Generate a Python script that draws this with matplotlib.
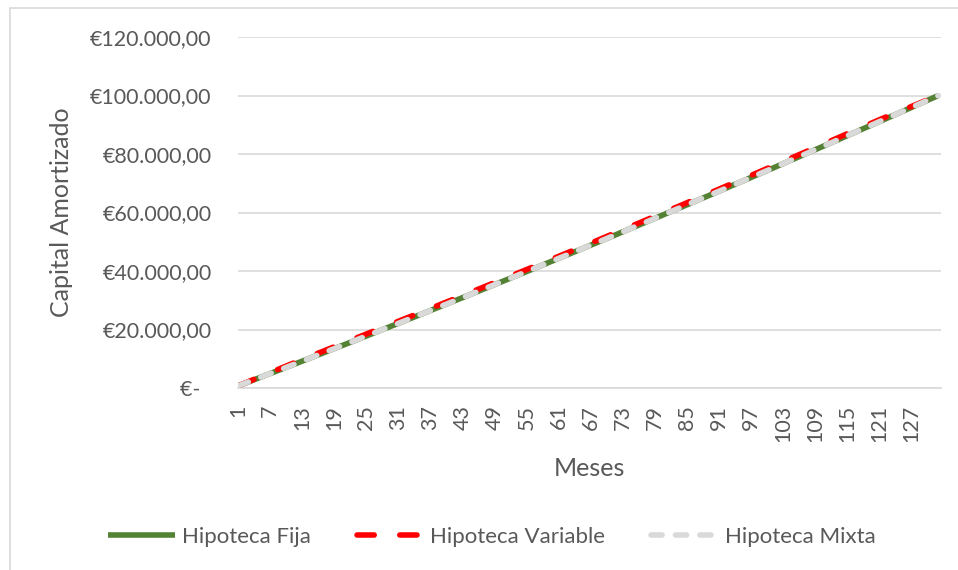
import matplotlib
matplotlib.use("Agg")
import matplotlib.pyplot as plt
from matplotlib.patches import Rectangle
from matplotlib.ticker import FuncFormatter, FixedLocator

# Capital amortizado acumulado por mes (EUR)
meses = list(range(1, 133))

fija = [700, 1400, 2100, 2810, 3510, 4210, 4920, 5620, 6330, 7040,
        7750, 8460, 9170, 9880, 10590, 11310, 12020, 12730, 13450, 14170,
        14880, 15600, 16320, 17040, 17760, 18490, 19210, 19930, 20660, 21380,
        22110, 22840, 23560, 24290, 25020, 25750, 26490, 27220, 27950, 28690,
        29420, 30160, 30890, 31630, 32370, 33110, 33850, 34590, 35330, 36080,
        36820, 37570, 38310, 39060, 39810, 40560, 41300, 42050, 42810, 43560,
        44310, 45060, 45820, 46570, 47330, 48090, 48850, 49600, 50360, 51130,
        51890, 52650, 53410, 54180, 54940, 55710, 56480, 57240, 58010, 58780,
        59550, 60320, 61090, 61870, 62640, 63420, 64190, 64970, 65750, 66520,
        67300, 68080, 68860, 69650, 70430, 71210, 72000, 72780, 73570, 74360,
        75140, 75930, 76720, 77510, 78300, 79100, 79890, 80680, 81480, 82280,
        83070, 83870, 84670, 85470, 86270, 87070, 87870, 88670, 89480, 90280,
        91090, 91900, 92700, 93510, 94320, 95130, 95940, 96750, 97570, 98380,
        99190, 100000]

variable = [700, 1460, 2220, 2990, 3740, 4490, 5250, 6000, 6750, 7500,
            8250, 8990, 9730, 10460, 11190, 11930, 12660, 13380, 14110, 14840,
            15560, 16290, 17020, 17740, 18460, 19190, 19910, 20630, 21360, 22080,
            22810, 23540, 24260, 24990, 25720, 26450, 27190, 27920, 28650, 29390,
            30120, 30860, 31590, 32330, 33070, 33810, 34550, 35290, 36030, 36780,
            37520, 38270, 39010, 39760, 40510, 41260, 42000, 42750, 43510, 44260,
            45010, 45760, 46520, 47270, 48030, 48790, 49550, 50300, 51060, 51830,
            52590, 53350, 54110, 54880, 55640, 56410, 57180, 57940, 58710, 59480,
            60250, 61020, 61790, 62570, 63340, 64120, 64890, 65670, 66450, 67220,
            68000, 68780, 69560, 70350, 71130, 71910, 72700, 73480, 74270, 75060,
            75840, 76630, 77420, 78210, 79000, 79800, 80590, 81380, 82180, 82980,
            83770, 84570, 85370, 86170, 86970, 87770, 88570, 89370, 90180, 90980,
            91740, 92500, 93250, 94010, 94770, 95530, 96290, 97050, 97800, 98540,
            99270, 100000]

# la mixta va encima de la fija
mixta = list(fija)

meses_tick = meses[::6]

gris_txt = "#595959"
gris_rejilla = "#D9D9D9"

plt.rcParams["font.family"] = ["Lato", "DejaVu Sans"]

fig = plt.figure(figsize=(9.58, 5.70), dpi=100)
ax = fig.add_axes([238 / 958, 1 - 388 / 570, (941 - 238) / 958, (388 - 37) / 570])

# marco del gráfico
fig.patches.append(Rectangle((10 / 958, -0.1), 1.2, 0.1 + 562 / 570,
                             transform=fig.transFigure, fill=False,
                             edgecolor=gris_rejilla, linewidth=1.2))

lw = 4
l_fija, = ax.plot(meses, fija, color="#548235", linewidth=lw,
                  solid_capstyle="butt", label="Hipoteca Fija", zorder=3)
l_var, = ax.plot(meses, variable, color="#FF0000", linewidth=lw,
                 dash_capstyle="round", label="Hipoteca Variable", zorder=4)
l_var.set_dashes((3.1, 4.6))
l_mix, = ax.plot(meses, mixta, color="#D9D9D9", linewidth=lw,
                 dash_capstyle="round", label="Hipoteca Mixta", zorder=5)
l_mix.set_dashes((2.0, 2.4))

ax.set_xlim(1, 132.5)
ax.set_ylim(0, 120000)
ax.set_yticks(range(0, 120001, 20000))
ax.xaxis.set_major_locator(FixedLocator(meses_tick))
ax.set_xticklabels([str(m) for m in meses_tick], rotation=90)


def euros(v, pos):
    if v == 0:
        return "€-  "
    s = f"{v:,.2f}".replace(",", "X").replace(".", ",").replace("X", ".")
    return "€" + s


ax.yaxis.set_major_formatter(FuncFormatter(euros))
ax.grid(axis="y", color=gris_rejilla, linewidth=1.2)
ax.set_axisbelow(True)
for lado in ["top", "right", "left"]:
    ax.spines[lado].set_visible(False)
ax.spines["bottom"].set_color(gris_rejilla)
ax.spines["bottom"].set_linewidth(1.2)
ax.tick_params(axis="both", length=0, labelsize=15.5, colors=gris_txt)
ax.tick_params(axis="x", pad=12)
ax.tick_params(axis="y", pad=19)

ax.set_xlabel("Meses", fontsize=18, color=gris_txt, labelpad=11)
ax.set_ylabel("Capital Amortizado", fontsize=18, color=gris_txt)
ax.yaxis.set_label_coords(-(238 - 73) / 703, 0.5)

fig.legend(handles=[l_fija, l_var, l_mix], loc="center",
           bbox_to_anchor=(492 / 958, 1 - 537 / 570), ncol=3, frameon=False,
           fontsize=16, labelcolor=gris_txt, handlelength=3.0,
           handletextpad=0.32, columnspacing=2.05)

plt.savefig("out.png", dpi=100)
plt.close()
